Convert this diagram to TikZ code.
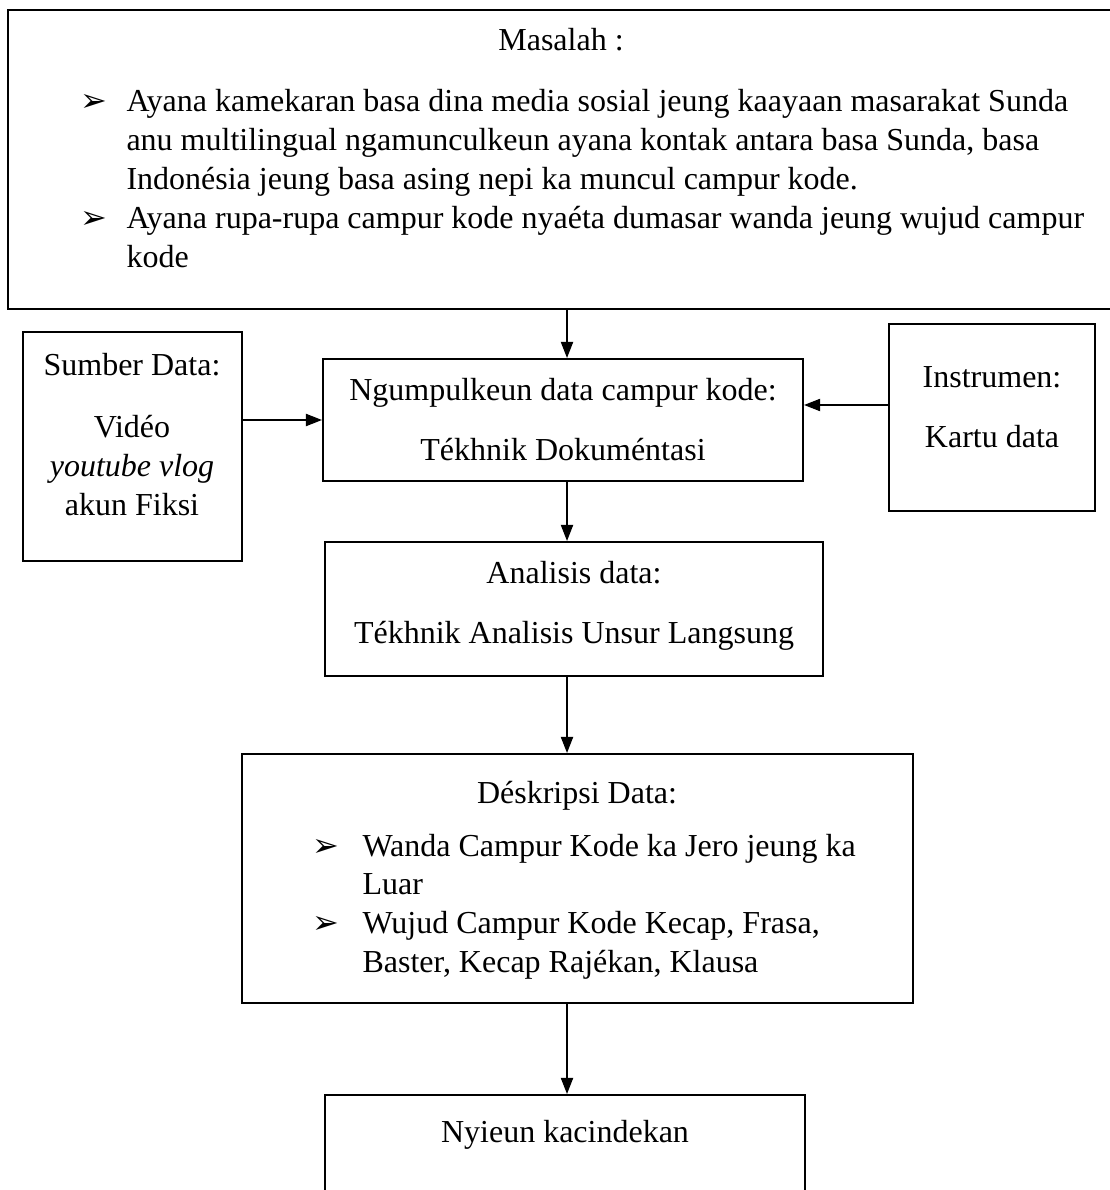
\documentclass[tikz,border=0pt]{standalone}
\usepackage{fontspec}
\setmainfont{Liberation Serif}
\newfontfamily\dejavu{DejaVu Sans}
\usetikzlibrary{arrows.meta,fit}
\newcommand{\bul}[1][17.25pt]{\makebox[#1][l]{\dejavu\fontsize{12}{12}\selectfont ➢}}

\begin{document}
\begin{tikzpicture}[x=0.375pt,y=-0.375pt,
  box/.style={draw, line width=0.8pt, inner sep=0pt},
  txt/.style={anchor=base, inner sep=0pt, align=center, font=\fontsize{12}{14.6}\selectfont},
  arr/.style={-{Triangle[length=6pt,width=4.6pt]}, line width=0.4pt}]

\useasboundingbox (0,0) rectangle (1109,1190);

% Boxes
\node[box, fit={(8,10)(1125,309)}] (masalah) {};
\node[box, fit={(23,332)(242,561)}] (sumber) {};
\node[box, fit={(323,359)(803,481)}] (ngumpul) {};
\node[box, fit={(889,324)(1095,511)}] (instrumen) {};
\node[box, fit={(325,542)(823,676)}] (analisis) {};
\node[box, fit={(242,754)(913,1003)}] (deskripsi) {};
\node[box, fit={(325,1095)(805,1210)}] (cindek) {};

% Texts
\node[txt] (masalahT) at (561,51) {Masalah :};
\node[txt, anchor=base west, align=left] (masalahL) at (80,112) {%
  \begin{tabular}[t]{@{}l@{}l@{}}
  \bul & Ayana kamekaran basa dina media sosial jeung kaayaan masarakat Sunda\\
       & anu multilingual ngamunculkeun ayana kontak antara basa Sunda, basa\\
       & Indonésia jeung basa asing nepi ka muncul campur kode.\\
  \bul & Ayana rupa-rupa campur kode nyaéta dumasar wanda jeung wujud campur\\
       & kode
  \end{tabular}};

\node[txt] (sumberT) at (132,376) {Sumber Data:};
\node[txt] (sumberL) at (132,515) {Vidéo\\ \textit{youtube vlog}\\ akun Fiksi};

\node[txt] (ngumpulT) at (563,400) {Ngumpulkeun data campur kode:};
\node[txt] (ngumpulL) at (563,460) {Tékhnik Dokuméntasi};

\node[txt] (instrumenT) at (992,387) {Instrumen:};
\node[txt] (instrumenL) at (992,447) {Kartu data};

\node[txt] (analisisT) at (574,583) {Analisis data:};
\node[txt] (analisisL) at (574,643) {Tékhnik Analisis Unsur Langsung};

\node[txt] (deskripsiT) at (577,803) {Déskripsi Data:};
\node[txt, anchor=base west, align=left] (deskripsiL) at (312,856) {%
  \begin{tabular}[t]{@{}l@{}l@{}}
  \bul[18.75pt] & Wanda Campur Kode ka Jero jeung ka\\
                & Luar\\
  \bul[18.75pt] & Wujud Campur Kode Kecap, Frasa,\\
                & Baster, Kecap Rajékan, Klausa
  \end{tabular}};

\node[txt] (cindekT) at (565,1142) {Nyieun kacindekan};

% Arrows
\coordinate (axis) at (567,0);
\coordinate (kin) at (0,405);
\draw[arr] (masalah.south -| axis) -- (ngumpul.north -| axis);
\draw[arr] (ngumpul.south -| axis) -- (analisis.north -| axis);
\draw[arr] (analisis.south -| axis) -- (deskripsi.north -| axis);
\draw[arr] (deskripsi.south -| axis) -- (cindek.north -| axis);
\draw[arr] (sumber.east |- ngumpul.west) -- (ngumpul.west);
\draw[arr] (instrumen.west |- kin) -- (ngumpul.east |- kin);

\end{tikzpicture}
\end{document}
